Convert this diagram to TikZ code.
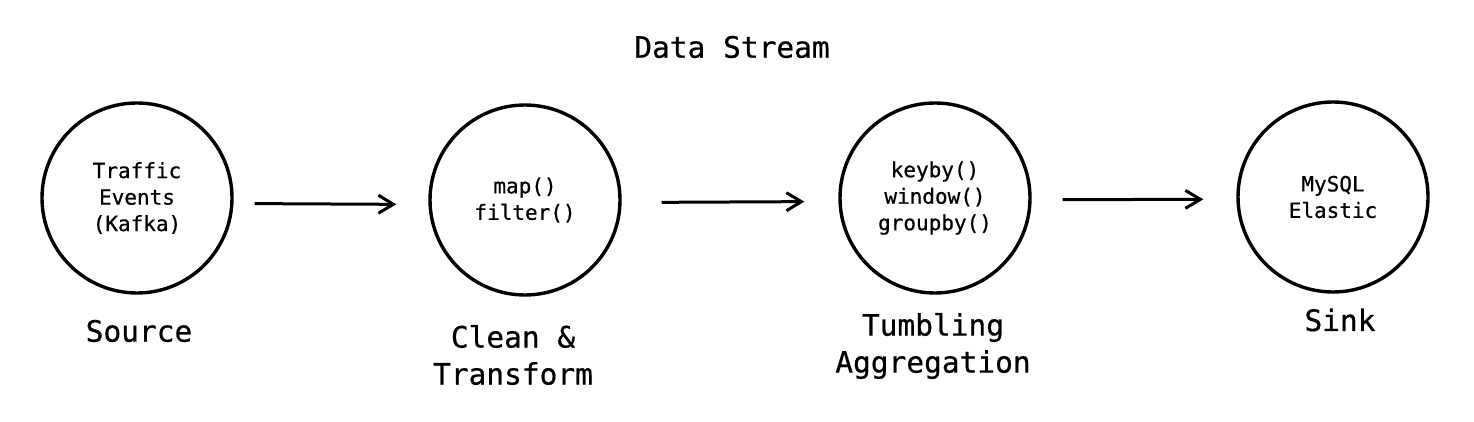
\documentclass[tikz,border=0pt]{standalone}
\usepackage{fontspec}
\setmonofont[FakeBold=0.6]{DejaVu Sans Mono}
\usetikzlibrary{arrows.meta}
\begin{document}
\begin{tikzpicture}[x=1pt,y=-1pt,
        stage/.style={draw,circle,line width=3.4pt,minimum size=190pt,inner sep=0pt,align=center,font=\ttfamily\fontsize{21}{26.5}\selectfont},
        caption/.style={align=center,font=\ttfamily\fontsize{29.5}{37}\selectfont},
        flow/.style={line width=3pt,-{Straight Barb[length=15pt,width=18pt,line width=3pt]}}]
        \useasboundingbox (0,0) rectangle (1474,422);
        \node[caption] (title) at (732,47) {Data Stream};
        \node[stage] (src) at (137,198) {Traffic\\Events\\(Kafka)};
        \node[stage] (clean) at (525,200) {map()\\filter()};
        \node[stage] (agg) at (935,198) {keyby()\\window()\\groupby()};
        \node[stage] (sink) at (1333,197) {MySQL\\Elastic};
        \node[caption] (srclbl) at (139,331) {Source};
        \node[caption] (cleanlbl) at (513,355) {Clean \&\\Transform};
        \node[caption] (agglbl) at (933,346) {Tumbling\\Aggregation};
        \node[caption] (sinklbl) at (1340,320) {Sink};
        \draw[flow,shorten <=21pt,shorten >=32pt,transform canvas={yshift=-5pt}] (src) -- (clean);
        \draw[flow,shorten <=40pt,shorten >=34pt,transform canvas={yshift=-3pt}] (clean) -- (agg);
        \draw[flow,shorten <=31pt,shorten >=33pt,transform canvas={yshift=-2pt}] (agg) -- (sink);
\end{tikzpicture}
\end{document}
